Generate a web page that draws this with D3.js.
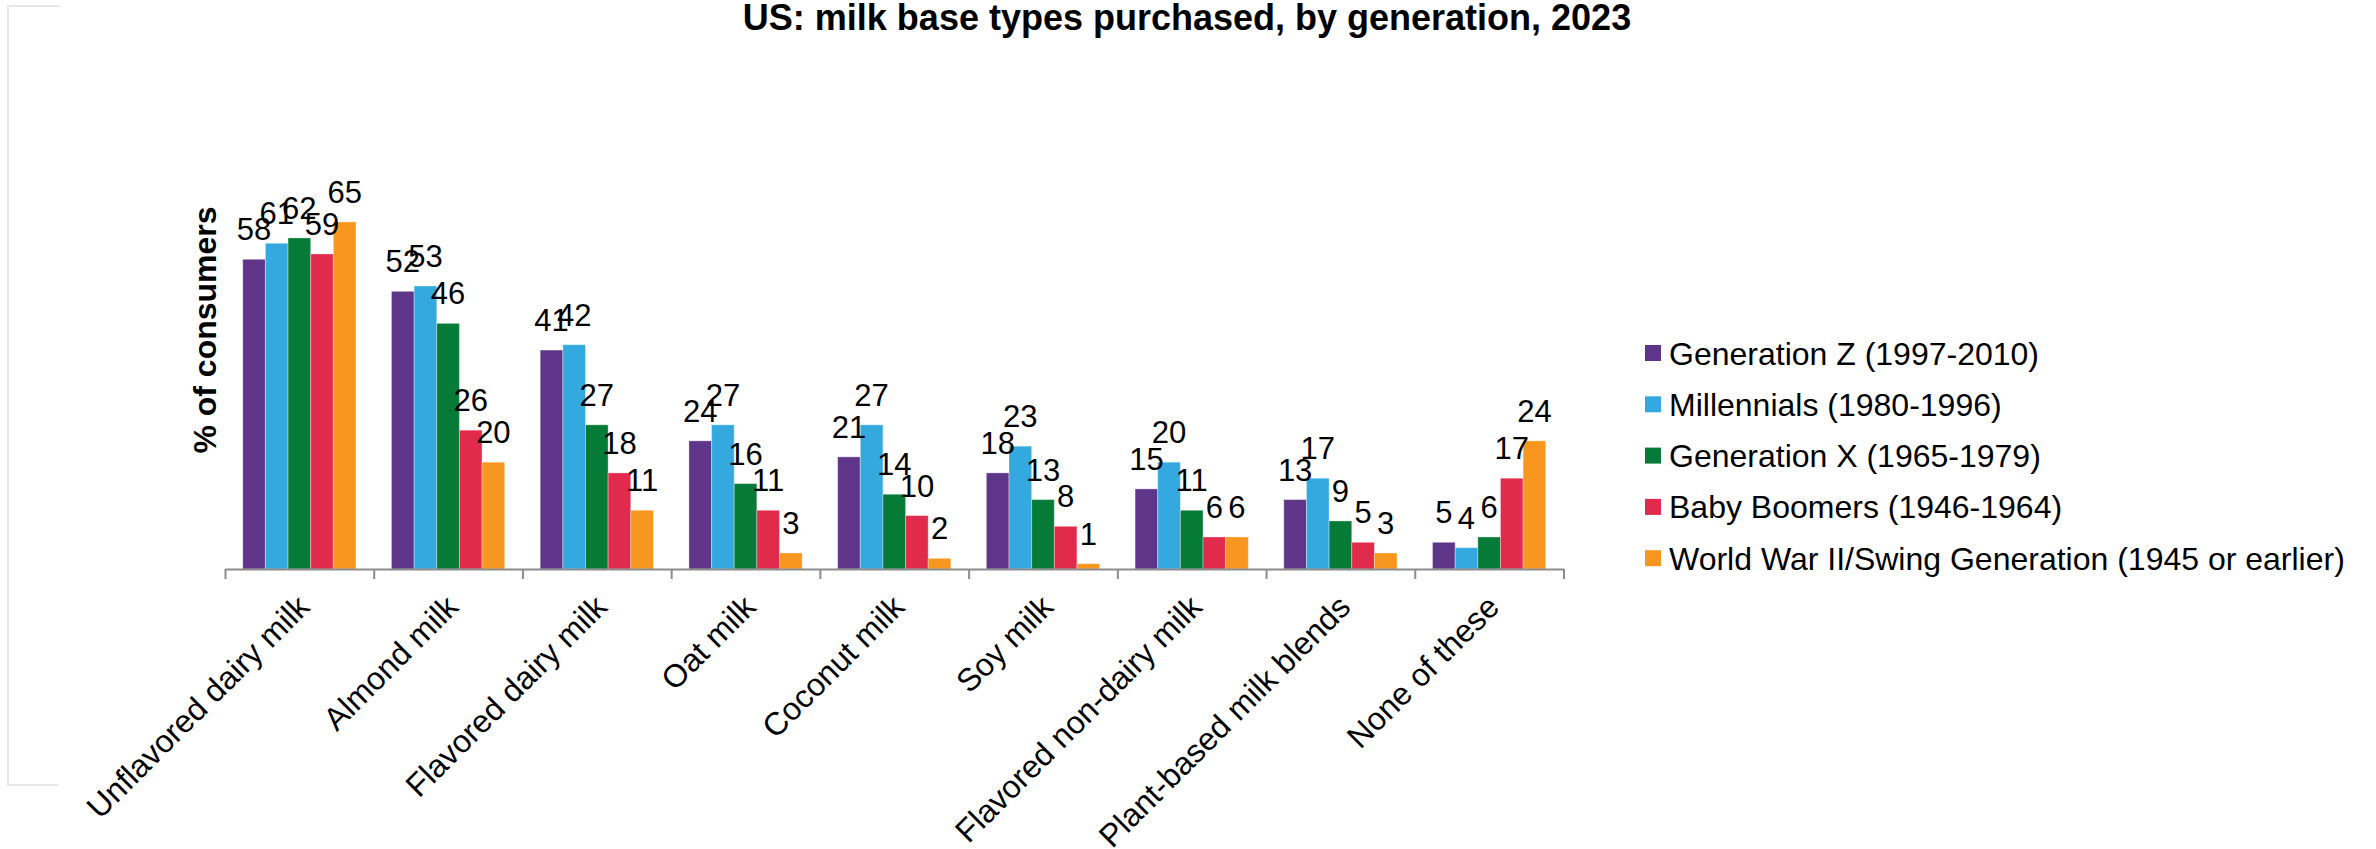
<!DOCTYPE html>
<html>
<head>
<meta charset="utf-8">
<script src="https://cdn.jsdelivr.net/npm/d3@7"></script>
<style>
  html, body { margin: 0; padding: 0; background: #ffffff; }
  svg { display: block; font-family: "Liberation Sans", Arial, Helvetica, sans-serif; }
</style>
</head>
<body>
<svg id="chart" width="2376" height="849"></svg>
<script>
// Milk base types purchased in the US, 2023, share of consumers by generation
const categories = [
  "Unflavored dairy milk", "Almond milk", "Flavored dairy milk", "Oat milk",
  "Coconut milk", "Soy milk", "Flavored non-dairy milk", "Plant-based milk blends",
  "None of these"
];
const seriesNames = [
  "Generation Z (1997-2010)",
  "Millennials (1980-1996)",
  "Generation X (1965-1979)",
  "Baby Boomers (1946-1964)",
  "World War II/Swing Generation (1945 or earlier)"
];
const genZ        = [58, 52, 41, 24, 21, 18, 15, 13, 5];
const millennials = [61, 53, 42, 27, 27, 23, 20, 17, 4];
const genX        = [62, 46, 27, 16, 14, 13, 11, 9, 6];
const boomers     = [59, 26, 18, 11, 10, 8, 6, 5, 17];
const swing       = [65, 20, 11, 3, 2, 1, 6, 3, 24];
const seriesColors = ["#5f3589", "#34a9df", "#067a37", "#e02b4c", "#f7971f"];

const titleText = "US: milk base types purchased, by generation, 2023";
const yTitleText = "% of consumers";

const seriesValues = [genZ, millennials, genX, boomers, swing];
const rows = categories.map((c, i) => ({
  category: c,
  values: seriesNames.map((s, j) => ({ series: s, idx: j, value: seriesValues[j][i] }))
}));

const svg = d3.select("#chart");

// light frame fragment on the left edge
svg.append("path")
  .attr("d", "M60,6H8V785H59")
  .attr("fill", "none")
  .attr("stroke", "#e8e8e8")
  .attr("stroke-width", 2);

// scales
const plotLeft = 225, plotRight = 1563.5, baseY = 569;
const x = d3.scaleBand().domain(categories).range([plotLeft, plotRight]).padding(0);
const groupPad = 17.75;
const xs = d3.scaleBand().domain(seriesNames)
  .range([groupPad, x.bandwidth() - groupPad]).padding(0);
const y = d3.scaleLinear().domain([0, 70]).range([baseY, baseY - 70 * 5.34]);
const color = d3.scaleOrdinal().domain(seriesNames).range(seriesColors);

// bars
const groups = svg.append("g").selectAll("g")
  .data(rows).join("g")
  .attr("transform", d => `translate(${x(d.category)},0)`);

groups.selectAll("rect")
  .data(d => d.values).join("rect")
  .attr("x", d => xs(d.series))
  .attr("y", d => y(d.value))
  .attr("width", xs.bandwidth())
  .attr("height", d => baseY - y(d.value))
  .attr("fill", d => color(d.series))
  .attr("stroke", "#ffffff")
  .attr("stroke-opacity", 0.35)
  .attr("stroke-width", 1);

// value labels
groups.selectAll("text")
  .data(d => d.values).join("text")
  .attr("x", d => xs(d.series) + xs.bandwidth() / 2)
  .attr("y", d => y(d.value) - 19)
  .attr("text-anchor", "middle")
  .attr("font-size", 31)
  .attr("fill", "#000")
  .text(d => d.value);

// x axis with ticks at category boundaries
const xEdge = d3.scaleLinear().domain([0, categories.length]).range([plotLeft, plotRight]);
const xAxis = svg.append("g")
  .attr("transform", `translate(0,${baseY})`)
  .call(d3.axisBottom(xEdge)
    .tickValues(d3.range(categories.length + 1))
    .tickSize(10)
    .tickSizeOuter(0)
    .tickFormat(() => ""));
xAxis.select(".domain").attr("stroke", "#8c8c8c").attr("stroke-width", 2);
xAxis.selectAll(".tick line").attr("stroke", "#8c8c8c").attr("stroke-width", 2);

// category labels, rotated
svg.append("g").selectAll("text")
  .data(categories).join("text")
  .attr("transform", d => `translate(${x(d) + x.bandwidth() / 2 + 12},${baseY + 40}) rotate(-45)`)
  .attr("text-anchor", "end")
  .attr("font-size", 32)
  .attr("fill", "#000")
  .text(d => d);

// y axis title
svg.append("text")
  .attr("transform", "translate(216,330) rotate(-90)")
  .attr("text-anchor", "middle")
  .attr("font-size", 32)
  .attr("font-weight", "bold")
  .attr("fill", "#000")
  .text(yTitleText);

// chart title
svg.append("text")
  .attr("x", 1187)
  .attr("y", 30)
  .attr("text-anchor", "middle")
  .attr("font-size", 36)
  .attr("font-weight", "bold")
  .attr("fill", "#000")
  .text(titleText);

// legend
const legend = svg.append("g").attr("transform", "translate(1645,345)");
const li = legend.selectAll("g").data(seriesNames).join("g")
  .attr("transform", (d, i) => `translate(0,${i * 51.3})`);
li.append("rect")
  .attr("width", 16).attr("height", 16)
  .attr("fill", d => color(d));
li.append("text")
  .attr("x", 24)
  .attr("y", 8 + 11.5)
  .attr("font-size", 32)
  .attr("fill", "#000")
  .text(d => d);
</script>
</body>
</html>
